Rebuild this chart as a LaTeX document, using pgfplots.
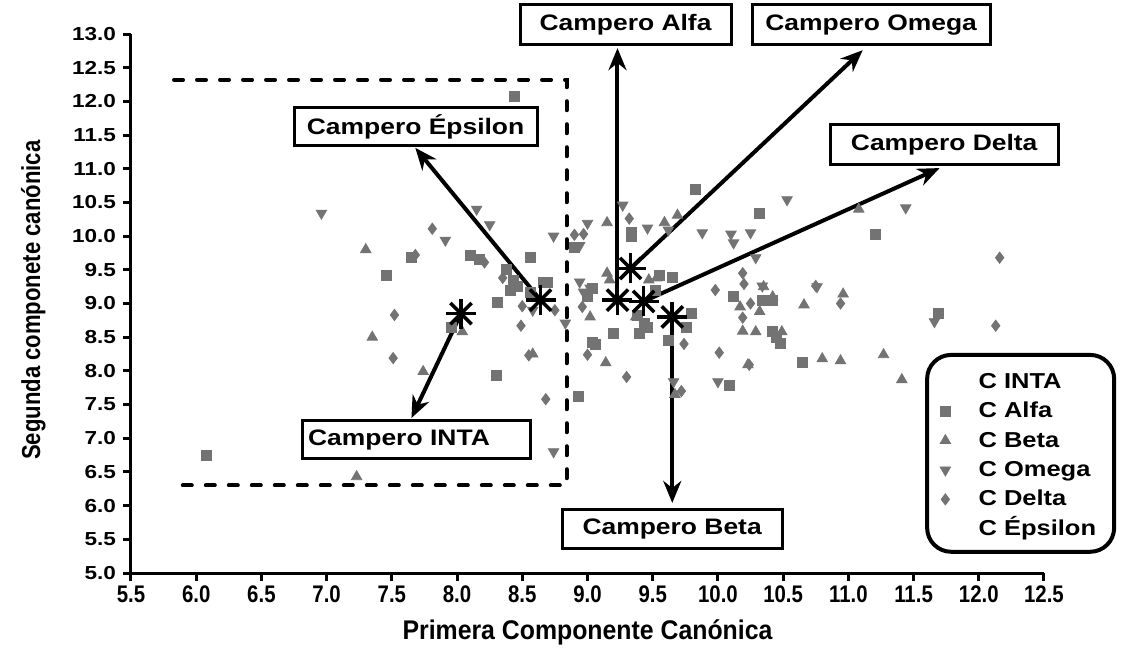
\documentclass[border=0pt]{standalone}
\usepackage{fontspec}
\setmainfont{Liberation Sans}
\newfontfamily\widefont{Liberation Sans}[FakeStretch=1.18]
\newfontfamily\ywide{Liberation Sans}[FakeStretch=1.2]
\newfontfamily\narrowfont{Liberation Sans}[FakeStretch=0.85]
\newfontfamily\xlabfont{Liberation Sans}[FakeStretch=0.92]
\usepackage{pgfplots}
\pgfplotsset{compat=1.18}
\usetikzlibrary{arrows.meta}
\definecolor{mk}{HTML}{737373}
\begin{document}
\begin{tikzpicture}
\begin{axis}[
  scale only axis, width=456.5pt, height=269.5pt,
  xmin=5.5, xmax=12.5, ymin=5, ymax=13,
  axis lines=left, axis line style={-, line width=1.5pt},
  clip=false,
  xtick={5.5,6.0,6.5,7.0,7.5,8.0,8.5,9.0,9.5,10.0,10.5,11.0,11.5,12.0,12.5},
  ytick={5.0,5.5,6.0,6.5,7.0,7.5,8.0,8.5,9.0,9.5,10.0,10.5,11.0,11.5,12.0,12.5,13.0},
  tick style={line width=1.5pt, black},
  major tick length=4pt, tick align=outside,
  xticklabel style={font=\narrowfont\bfseries\fontsize{12}{13}\selectfont, yshift=1pt},
  yticklabel style={font=\ywide\bfseries\fontsize{9.4}{10}\selectfont},
  /pgf/number format/fixed, /pgf/number format/fixed zerofill, /pgf/number format/precision=1,
  /pgf/number format/assume math mode=true,
  xlabel={Primera Componente Canónica},
  ylabel={Segunda componete canónica},
  xlabel style={at={(axis description cs:0.5,-0.11)}, anchor=center, font=\xlabfont\bfseries\fontsize{13.5}{15}\selectfont},
  ylabel style={at={(axis description cs:-0.107,0.506)}, anchor=center, rotate=0, font=\narrowfont\bfseries\fontsize{13}{14}\selectfont},
  legend style={draw=none, fill=none, at={(axis cs:11.61,8.0)}, anchor=north west, inner sep=0pt,
    font=\widefont\bfseries\fontsize{10.8}{12}\selectfont, row sep=4.2pt,
    nodes={inner sep=0pt, text height=8.5pt, text depth=2pt},
    /tikz/every odd column/.append style={column sep=14pt}},
  legend cell align=left,
]
\coordinate (BL) at (rel axis cs:0,0);
% dashed region
\draw[line width=2pt, line cap=round, dash pattern=on 4.5pt off 7pt]
  (axis cs:5.83,12.32) -- (axis cs:8.84,12.32) -- (axis cs:8.84,6.30) -- (axis cs:5.83,6.30);

\addlegendimage{empty legend}\addlegendentry{C INTA}
\addplot[only marks, mark=square*, mark size=2.5pt, color=mk] coordinates {
(6.08,6.74) (7.46,9.41) (7.65,9.68) (8.10,9.71) (8.17,9.66) (8.56,9.69) (8.38,9.50) (8.43,9.35)
(8.46,9.25) (8.41,9.20) (8.56,9.16) (8.66,9.32) (8.69,9.31) (8.31,9.02) (9.20,8.56) (9.04,8.43)
(9.06,8.40) (8.93,7.62) (9.40,8.55) (9.46,8.64) (9.44,8.71) (9.76,8.65) (9.62,8.45) (10.09,7.79)
(9.80,8.86) (10.34,9.05) (10.42,9.05) (10.42,8.58) (10.45,8.50) (10.48,8.41) (10.65,8.13) (11.69,8.86)
(11.21,10.03) (9.83,10.70) (10.32,10.33) (9.34,10.05) (9.34,10.00) (9.55,9.41) (9.65,9.39) (9.52,9.20)
(10.12,9.11) (8.90,9.84) (9.04,9.23) (9.00,9.10) (7.96,8.65) (8.30,7.93) (8.44,12.08) (9.38,8.83)
};\addlegendentry{C Alfa}
\addplot[only marks, mark=triangle*, mark size=3pt, color=mk] coordinates {
(7.30,9.80) (7.35,8.50) (7.23,6.43) (7.74,7.99) (8.04,8.58) (8.58,8.25) (9.02,8.80) (9.14,8.12)
(9.67,7.65) (10.19,8.59) (10.23,8.09) (10.17,8.95) (10.32,8.88) (10.29,8.58) (10.49,8.58) (10.66,8.98)
(10.80,8.18) (10.94,8.15) (11.27,8.24) (11.41,7.87) (11.08,10.40) (9.15,10.20) (9.59,10.20) (9.69,10.31)
(9.15,9.45) (9.17,9.35) (9.47,9.35) (9.53,9.38) (10.35,9.25) (10.42,9.10) (10.96,9.14) (9.37,8.80)
};\addlegendentry{C Beta}
\addplot[only marks, mark=triangle*, mark options={rotate=180}, mark size=3pt, color=mk] coordinates {
(6.96,10.34) (7.91,9.94) (8.15,10.40) (8.25,10.17) (8.74,10.00) (8.58,8.90) (8.83,8.71) (8.97,9.17)
(8.94,9.32) (9.02,9.23) (9.66,7.84) (10.00,7.84) (10.53,10.54) (9.88,10.05) (10.10,10.03) (10.12,9.90)
(10.25,10.05) (10.29,9.68) (9.27,10.46) (9.46,10.12) (9.62,10.09) (9.00,10.19) (10.34,9.26) (10.76,9.25)
(11.44,10.42) (11.66,8.73) (8.74,6.80) (8.94,9.86)
};\addlegendentry{C Omega}
\addplot[only marks, mark=diamond*, mark size=2.8pt, color=mk] coordinates {
(7.68,9.72) (7.81,10.11) (8.21,9.61) (8.35,9.38) (8.50,8.96) (8.75,8.90) (7.52,8.83) (8.49,8.67)
(8.96,8.95) (8.55,8.23) (9.00,8.24) (9.30,7.91) (8.68,7.58) (7.51,8.19) (9.74,8.40) (10.01,8.27)
(9.72,7.70) (10.25,9.00) (10.19,8.79) (10.94,9.00) (10.24,8.09) (12.16,9.68) (12.13,8.67) (9.32,10.26)
(9.98,9.20) (10.19,9.45) (10.20,9.29) (10.75,9.26) (8.90,10.02) (8.97,10.03)
};\addlegendentry{C Delta}
\addlegendimage{empty legend}\addlegendentry{C Épsilon}

% arrows
\begin{scope}[line width=2pt, -{Stealth[length=11pt,width=9pt]}]
\draw (axis cs:9.23,9.05) -- (axis cs:9.23,12.79);
\draw (axis cs:9.33,9.52) -- (axis cs:11.11,12.76);
\draw (axis cs:9.43,9.03) -- (axis cs:11.70,11.01);
\draw (axis cs:8.64,9.05) -- (axis cs:7.68,11.31);
\draw (axis cs:8.03,8.85) -- (axis cs:7.65,7.30);
\draw (axis cs:9.65,8.80) -- (axis cs:9.65,6.04);
\end{scope}

% centroids
\addplot[only marks, mark=+, mark size=7.5pt, line width=1.8pt, black, forget plot] coordinates {
(8.03,8.85) (8.64,9.05) (9.23,9.05) (9.33,9.52) (9.43,9.03) (9.65,8.80)};
\addplot[only marks, mark=x, mark size=7.5pt, line width=1.8pt, black, forget plot] coordinates {
(8.03,8.85) (8.64,9.05) (9.23,9.05) (9.33,9.52) (9.43,9.03) (9.65,8.80)};

% label boxes
\begin{scope}[every node/.style={draw, line width=1.5pt, fill=white, inner sep=0pt,
   font=\widefont\bfseries\fontsize{11.2}{12}\selectfont}]
\node[minimum width=105.5pt, minimum height=20pt] at (axis cs:9.292,13.134) {Campero Alfa};
\node[minimum width=119pt, minimum height=20pt] at (axis cs:11.175,13.134) {Campero Omega};
\node[minimum width=114pt, minimum height=20pt] at (axis cs:11.735,11.353) {Campero Delta};
\node[minimum width=121.5pt, minimum height=19pt] at (axis cs:7.682,11.620) {Campero Épsilon};
\node[minimum width=114pt, minimum height=19pt, text width=108pt, align=left] at (axis cs:7.686,6.976) {Campero INTA};
\node[minimum width=110pt, minimum height=19.5pt] at (axis cs:9.649,5.648) {Campero Beta};
\end{scope}

% legend frame
\draw[line width=2pt, rounded corners=12pt] (axis cs:11.604,8.237) rectangle (axis cs:13.038,5.315);
\end{axis}
\pgfresetboundingbox
\path (BL) ++(-65.5pt,-37.5pt) rectangle ++(562pt,324pt);
\end{tikzpicture}
\end{document}
